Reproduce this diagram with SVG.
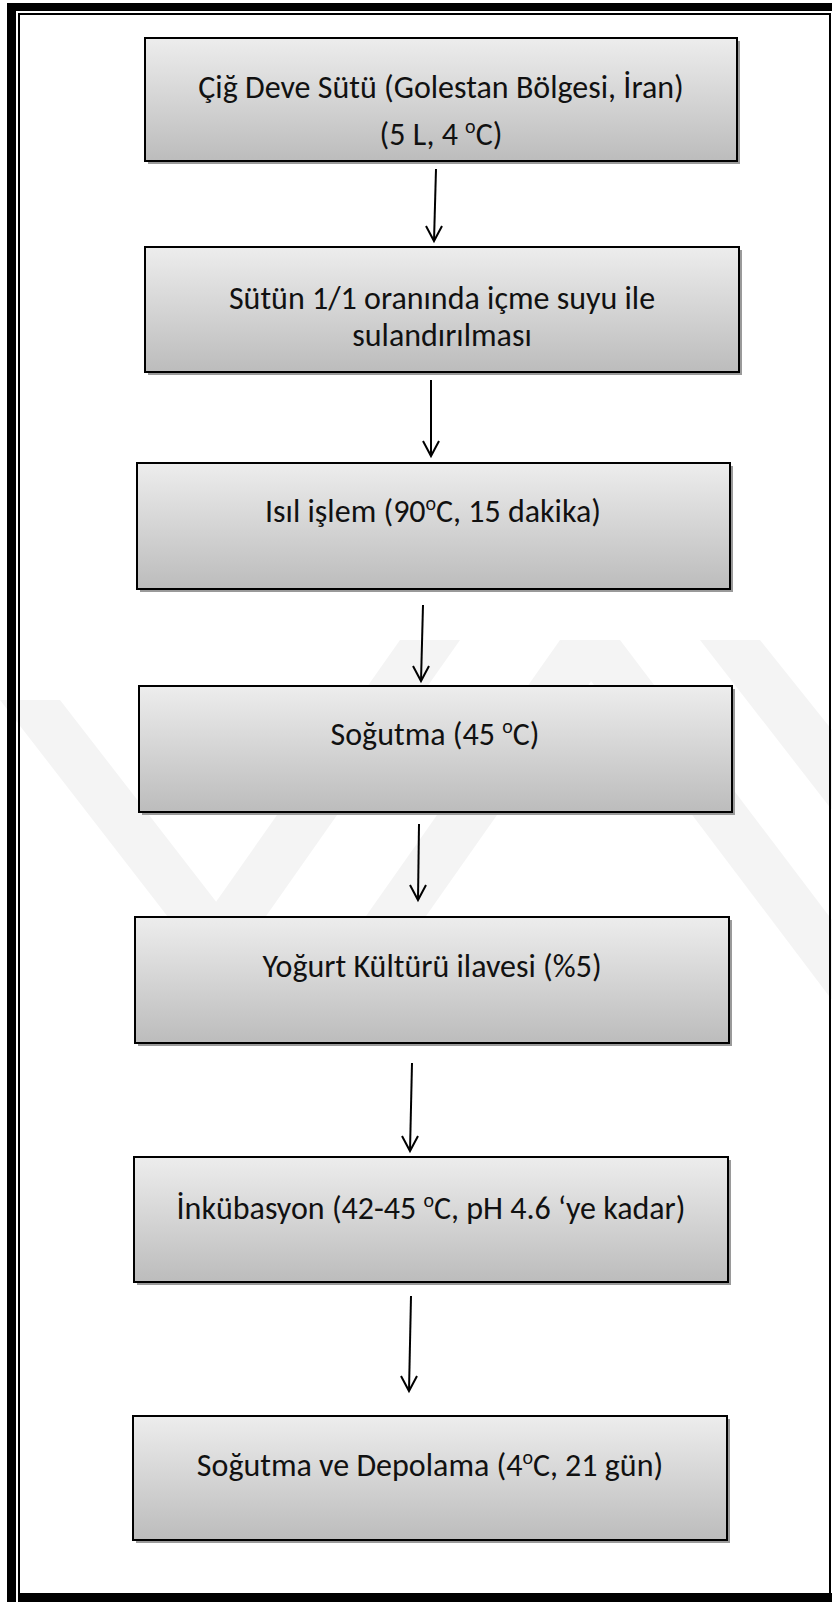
<svg xmlns="http://www.w3.org/2000/svg" width="832" height="1602" viewBox="0 0 832 1602">
<style>
.box{fill:url(#g);stroke:#000;stroke-width:2}
.sh{fill:#9a9a9a}
.t{font-family:Carlito,"Liberation Sans",sans-serif;font-size:32px;fill:#111;text-anchor:middle}
.c line{stroke:#000;stroke-width:2}
.c path{fill:none;stroke:#000;stroke-width:2}
.wm{fill:#f4f4f4}
</style>
<defs>
<linearGradient id="g" x1="0" y1="0" x2="0" y2="1">
<stop offset="0" stop-color="#ededed"/>
<stop offset="1" stop-color="#bcbcbc"/>
</linearGradient>
</defs>
<rect width="832" height="1602" fill="#fff"/>
<g id="watermark">
<polygon class="wm" points="0,700 60,700 300,1010 240,1010"/>
<polygon class="wm" points="140,1010 200,1010 460,640 400,640"/>
<polygon class="wm" points="300,1010 360,1010 620,640 560,640"/>
<polygon class="wm" points="560,640 620,640 832,920 832,1000"/>
<polygon class="wm" points="700,640 760,640 832,730 832,810"/>
</g>
<g id="frame">
<rect x="7" y="3" width="825" height="8" fill="#000"/>
<rect x="7" y="3" width="9" height="1599" fill="#000"/>
<rect x="18" y="1593" width="814" height="9" fill="#000"/>
<rect x="19" y="14" width="811" height="1580" fill="none" stroke="#000" stroke-width="2"/>
</g>
<g id="n1"><rect class="sh" x="148" y="41" width="592" height="123"/><rect class="box" x="145" y="38" width="592" height="123"/>
<text class="t" x="441" y="98">Çiğ Deve Sütü (Golestan Bölgesi, İran)</text>
<text class="t" x="441" y="145">(5 L, 4 <tspan dy="-12" font-size="20">o</tspan><tspan dy="12">C)</tspan></text></g>
<g id="n2"><rect class="sh" x="148" y="250" width="594" height="125"/><rect class="box" x="145" y="247" width="594" height="125"/>
<text class="t" x="442" y="309">Sütün 1/1 oranında içme suyu ile</text>
<text class="t" x="442" y="346">sulandırılması</text></g>
<g id="n3"><rect class="sh" x="140" y="466" width="593" height="126"/><rect class="box" x="137" y="463" width="593" height="126"/>
<text class="t" x="433" y="522">Isıl işlem (90<tspan dy="-12" font-size="20">o</tspan><tspan dy="12">C, 15 dakika)</tspan></text></g>
<g id="n4"><rect class="sh" x="142" y="689" width="593" height="126"/><rect class="box" x="139" y="686" width="593" height="126"/>
<text class="t" x="435" y="745">Soğutma (45 <tspan dy="-12" font-size="20">o</tspan><tspan dy="12">C)</tspan></text></g>
<g id="n5"><rect class="sh" x="138" y="920" width="594" height="126"/><rect class="box" x="135" y="917" width="594" height="126"/>
<text class="t" x="432" y="977">Yoğurt Kültürü ilavesi (%5)</text></g>
<g id="n6"><rect class="sh" x="137" y="1160" width="594" height="125"/><rect class="box" x="134" y="1157" width="594" height="125"/>
<text class="t" x="431" y="1219">İnkübasyon (42-45 <tspan dy="-12" font-size="20">o</tspan><tspan dy="12">C, pH 4.6 ‘ye kadar)</tspan></text></g>
<g id="n7"><rect class="sh" x="136" y="1419" width="594" height="124"/><rect class="box" x="133" y="1416" width="594" height="124"/>
<text class="t" x="430" y="1476">Soğutma ve Depolama (4<tspan dy="-12" font-size="20">o</tspan><tspan dy="12">C, 21 gün)</tspan></text></g>
<g id="connectors" class="c">
<line x1="436" y1="169" x2="434" y2="241"/><path d="M426,226 L434,241 L442,226"/>
<line x1="431" y1="380" x2="431" y2="456"/><path d="M423,441 L431,456 L439,441"/>
<line x1="423" y1="605" x2="421" y2="681"/><path d="M413,666 L421,681 L429,666"/>
<line x1="419" y1="824" x2="418" y2="900"/><path d="M410,885 L418,900 L426,885"/>
<line x1="412" y1="1063" x2="410" y2="1151"/><path d="M402,1136 L410,1151 L418,1136"/>
<line x1="411" y1="1296" x2="409" y2="1391"/><path d="M401,1376 L409,1391 L417,1376"/>
</g>
</svg>
